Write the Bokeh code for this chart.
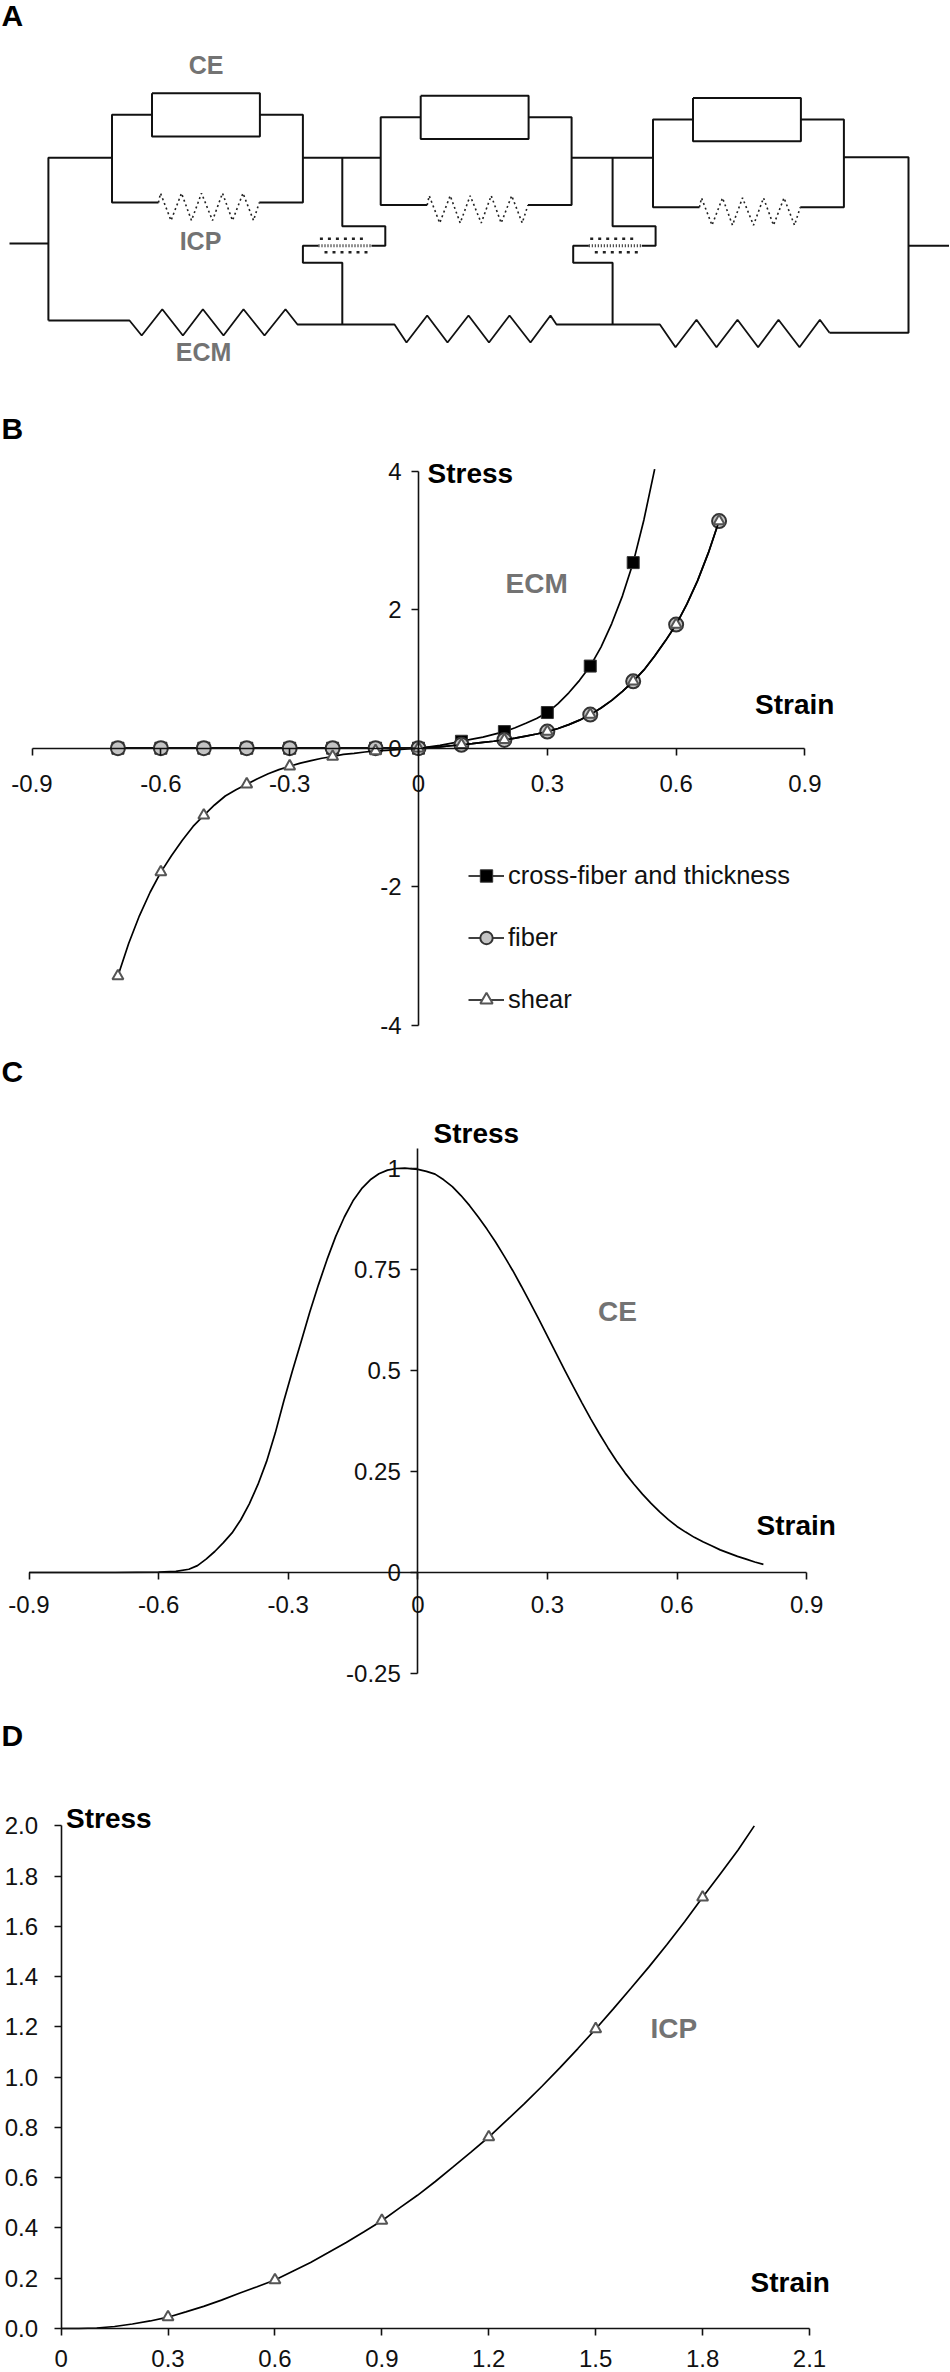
from bokeh.plotting import figure
from bokeh.layouts import column
from bokeh.models import Label, FixedTicker, Range1d, Legend, LegendItem
from bokeh.embed import file_html
from bokeh.resources import INLINE

# ---------- data ----------
b_x_ticks = [-0.9, -0.6, -0.3, 0, 0.3, 0.6, 0.9]
b_y_ticks = [-4, -2, 0, 2, 4]
marker_x = [-0.7, -0.6, -0.5, -0.4, -0.3, -0.2, -0.1, 0, 0.1, 0.2, 0.3, 0.4, 0.5, 0.6, 0.7]
cross_marker_x = [-0.7, -0.6, -0.5, -0.4, -0.3, -0.2, -0.1, 0, 0.1, 0.2, 0.3, 0.4, 0.5]
cross_marker_y = [0, 0, 0, 0, 0, 0, 0, 0, 0.1, 0.24, 0.515, 1.186, 2.68]
fiber_marker_y = [0, 0, 0, 0, 0, 0, 0, 0, 0.05, 0.12, 0.24, 0.485, 0.965, 1.785, 3.28]
shear_marker_y = [-3.29, -1.79, -0.97, -0.52, -0.26, -0.12, -0.04, 0, 0.05, 0.12, 0.24, 0.485, 0.965, 1.785, 3.28]

cross_curve_x = [-0.7, -0.1, 0, 0.025, 0.05, 0.075, 0.1, 0.125, 0.15, 0.175, 0.2, 0.225, 0.25, 0.275, 0.3, 0.325,
                 0.35, 0.375, 0.4, 0.425, 0.45, 0.475, 0.5, 0.525, 0.55]
cross_curve_y = [0, 0, 0, 0.02, 0.04, 0.07, 0.1, 0.13, 0.16, 0.2, 0.24, 0.295, 0.36, 0.43, 0.515, 0.645,
                 0.8, 0.98, 1.186, 1.46, 1.8, 2.2, 2.68, 3.3, 4.03]
fiber_curve_x = [-0.7, -0.1, 0, 0.025, 0.05, 0.075, 0.1, 0.125, 0.15, 0.175, 0.2, 0.225, 0.25, 0.275, 0.3, 0.325,
                 0.35, 0.375, 0.4, 0.425, 0.45, 0.475, 0.5, 0.525, 0.55, 0.575, 0.6, 0.625, 0.65, 0.675, 0.7]
fiber_curve_y = [0, 0, 0, 0.01, 0.02, 0.035, 0.05, 0.065, 0.085, 0.1, 0.12, 0.145, 0.175, 0.205, 0.24, 0.285,
                 0.34, 0.405, 0.485, 0.58, 0.69, 0.82, 0.965, 1.13, 1.33, 1.55, 1.785, 2.08, 2.42, 2.82, 3.28]
shear_curve_x = [-0.7, -0.675, -0.65, -0.625, -0.6, -0.575, -0.55, -0.525, -0.5, -0.475, -0.45, -0.425, -0.4, -0.375,
                 -0.35, -0.325, -0.3, -0.275, -0.25, -0.225, -0.2, -0.175, -0.15, -0.125, -0.1, -0.075, -0.05, -0.025] + fiber_curve_x[2:]
shear_curve_y = [-3.29, -2.82, -2.42, -2.08, -1.79, -1.55, -1.33, -1.13, -0.97, -0.82, -0.69, -0.6, -0.52, -0.44,
                 -0.37, -0.31, -0.26, -0.215, -0.18, -0.145, -0.12, -0.09, -0.075, -0.055, -0.04, -0.03, -0.02, -0.01] + fiber_curve_y[2:]

c_x_ticks = [-0.9, -0.6, -0.3, 0, 0.3, 0.6, 0.9]
c_y_ticks = [-0.25, 0, 0.25, 0.5, 0.75, 1]
ce_x = [-0.9, -0.7, -0.6, -0.56, -0.53, -0.51, -0.49, -0.47, -0.45, -0.43, -0.41, -0.39, -0.37, -0.35, -0.33, -0.31,
        -0.29, -0.27, -0.25, -0.23, -0.21, -0.19, -0.17, -0.15, -0.13, -0.11, -0.09, -0.07, -0.05, -0.03, 0, 0.02,
        0.04, 0.06, 0.08, 0.1, 0.12, 0.14, 0.16, 0.18, 0.2, 0.22, 0.24, 0.26, 0.28, 0.3, 0.32, 0.34, 0.36, 0.38,
        0.4, 0.42, 0.44, 0.46, 0.48, 0.5, 0.52, 0.54, 0.56, 0.58, 0.6, 0.62, 0.64, 0.66, 0.68, 0.7, 0.72, 0.74,
        0.76, 0.78, 0.8]
ce_y = [0, 0, 0.001, 0.003, 0.008, 0.017, 0.033, 0.052, 0.074, 0.098, 0.13, 0.17, 0.218, 0.275, 0.345, 0.425,
        0.5, 0.572, 0.645, 0.712, 0.775, 0.832, 0.88, 0.92, 0.95, 0.972, 0.987, 0.996, 1.0, 1.001, 0.998, 0.993,
        0.986, 0.972, 0.955, 0.933, 0.908, 0.88, 0.85, 0.818, 0.783, 0.747, 0.708, 0.668, 0.627, 0.585, 0.543, 0.501, 0.46, 0.42,
        0.381, 0.344, 0.309, 0.276, 0.246, 0.219, 0.194, 0.171, 0.15, 0.131, 0.114, 0.1, 0.087, 0.076, 0.066, 0.056, 0.048, 0.04,
        0.033, 0.026, 0.02]

d_x_ticks = [0, 0.3, 0.6, 0.9, 1.2, 1.5, 1.8, 2.1]
d_y_ticks = [0, 0.2, 0.4, 0.6, 0.8, 1.0, 1.2, 1.4, 1.6, 1.8, 2.0]
icp_x = [0, 0.05, 0.1, 0.15, 0.2, 0.25, 0.3, 0.35, 0.4, 0.45, 0.5, 0.55, 0.6, 0.65, 0.7, 0.75, 0.8, 0.85, 0.9, 0.95,
         1.0, 1.05, 1.1, 1.15, 1.2, 1.25, 1.3, 1.35, 1.4, 1.45, 1.5, 1.55, 1.6, 1.65, 1.7, 1.75, 1.8, 1.85, 1.9, 1.945]
icp_y = [0, 0, 0.002, 0.008, 0.018, 0.03, 0.045, 0.066, 0.088, 0.113, 0.14, 0.166, 0.193, 0.228, 0.263, 0.302, 0.342, 0.385, 0.429, 0.48,
         0.53, 0.585, 0.643, 0.702, 0.762, 0.828, 0.895, 0.965, 1.038, 1.114, 1.192, 1.273, 1.356, 1.44, 1.528, 1.62, 1.716, 1.81, 1.905, 2.0]
icp_marker_x = [0.3, 0.6, 0.9, 1.2, 1.5, 1.8]
icp_marker_y = [0.045, 0.193, 0.429, 0.762, 1.192, 1.716]

# schematic (panel A), in picture units of that panel
module_dx = [0, 268.7, 541]
module_dy = [0, 2.5, 4.7]
box_x = [151.5, 259.4, 259.4, 151.5, 151.5]
box_y = [92.7, 92.7, 136, 136, 92.7]
wire_left_x = [151.5, 111.5, 111.5, 158]
wire_left_y = [114.3, 114.3, 202, 202]
wire_right_x = [259.4, 302.4, 302.4, 258.8]
wire_right_y = [114.3, 114.3, 202, 202]
icp_zig_x = [158, 160, 170.5, 181, 191, 201, 212, 222, 232, 242.5, 253, 258.8]
icp_zig_y = [202, 192.7, 220, 192.7, 220, 192.7, 220, 192.7, 220, 192.7, 220, 202]
main_wires = [
    ([9, 47.9], [243, 243]),
    ([47.9, 47.9, 111.5], [320, 157.3, 157.3]),
    ([302.4, 380], [157.3, 157.3]),
    ([571, 652], [157.3, 157.3]),
    ([843, 908, 908, 829], [156.7, 156.7, 332.3, 332.3]),
    ([908, 948.5], [245.3, 245.3]),
]
ecm_zig_x = [47.9, 129, 141.2, 161.8, 182.4, 202.4, 223, 243, 264, 285, 297, 394, 406, 426.7, 447, 468, 488.5, 509,
             530, 550, 556, 659.4, 675, 696, 716, 737, 757.6, 778, 799, 819.4, 829]
ecm_zig_y = [320, 320, 335, 308.7, 335, 308.7, 335, 308.7, 335, 308.7, 324, 324, 342, 315, 342, 315, 342, 315,
             342, 315, 324, 324, 346.7, 319.3, 346.7, 319.3, 346.7, 319.3, 346.7, 319.3, 332.3]
link_dx = [0, 270.3]
link_top_x = [341.8, 341.8, 384.8, 384.8, 371]
link_top_y = [157.3, 225.7, 225.7, 245.3, 245.3]
link_bot_x = [318, 302.4, 302.4, 341.8, 341.8]
link_bot_y = [245.3, 245.3, 262.3, 262.3, 323.7]
dash_mid_x = [318, 371]
dash_mid_y = [245.3, 245.3]
dash_top_x = [319.4, 362.4]
dash_top_y = [238.3, 238.3]
dash_bot_x = [324, 368]
dash_bot_y = [251.7, 251.7]

FONT = "Liberation Sans"
W = 950


def make_fig(top, h, x0, xu, y0, yu):
    p = figure(width=W, height=h, output_backend="svg", toolbar_location=None,
               x_range=Range1d(-x0 / xu, (W - x0) / xu),
               y_range=Range1d(-(top + h - y0) / yu, (y0 - top) / yu),
               min_border=0, min_border_left=0, min_border_right=0, min_border_top=0, min_border_bottom=0)
    p.grid.visible = False
    p.outline_line_color = None
    p.background_fill_color = "white"
    p.border_fill_color = "white"
    return p, (x0, xu, y0, yu)


def style_axes(p, xt, yt, xb, yb, xlabels, ylabels, xs=12, ys=10):
    for ax, ticks, bounds, labs, st in ((p.xaxis, xt, xb, xlabels, xs), (p.yaxis, yt, yb, ylabels, ys)):
        ax.fixed_location = 0
        ax.ticker = FixedTicker(ticks=ticks)
        ax.bounds = bounds
        ax.major_label_overrides = dict(zip(ticks, labs))
        ax.major_label_text_font = FONT
        ax.major_label_text_font_size = "24px"
        ax.major_label_text_color = "#111111"
        ax.major_label_standoff = st
        ax.major_tick_in = 0
        ax.major_tick_out = 7
        ax.minor_tick_line_color = None
        ax.axis_line_color = "#111111"
        ax.major_tick_line_color = "#111111"
        ax.axis_line_width = 1.6
        ax.major_tick_line_width = 1.6


def lab(p, m, text, left, cy, size=28, color="black", bold=True, align="left"):
    x0, xu, y0, yu = m
    p.add_layout(Label(x=(left - x0) / xu, y=(y0 - cy) / yu, text=text, text_font=FONT,
                       text_font_size=f"{size}px", text_color=color,
                       text_font_style="bold" if bold else "normal",
                       text_baseline="middle", text_align=align))


def neg(ys_):
    return [-v for v in ys_]


GRAY = "#737373"

# ---------- panel A ----------
pa, ma = make_fig(0, 400, 0, 1, 0, 1)
pa.xaxis.visible = False
pa.yaxis.visible = False
LW = 2
for dx, dy in zip(module_dx, module_dy):
    for xs_, ys_ in ((box_x, box_y), (wire_left_x, wire_left_y), (wire_right_x, wire_right_y)):
        pa.line([v + dx for v in xs_], neg([v + dy for v in ys_]), line_color="#111111", line_width=LW)
    pa.line([v + dx for v in icp_zig_x], neg([v + dy for v in icp_zig_y]), line_color="#222222",
            line_width=1.6, line_dash="2 3")
for xs_, ys_ in main_wires:
    pa.line(xs_, neg(ys_), line_color="#111111", line_width=LW)
pa.line(ecm_zig_x, neg(ecm_zig_y), line_color="#111111", line_width=1.8)
for dx in link_dx:
    pa.line([v + dx for v in link_top_x], neg(link_top_y), line_color="#111111", line_width=LW)
    pa.line([v + dx for v in link_bot_x], neg(link_bot_y), line_color="#111111", line_width=LW)
    pa.line([v + dx for v in dash_mid_x], neg(dash_mid_y), line_color="#222222", line_width=3, line_dash="1 2")
    pa.line([v + dx for v in dash_top_x], neg(dash_top_y), line_color="#222222", line_width=2.5, line_dash="3 5")
    pa.line([v + dx for v in dash_bot_x], neg(dash_bot_y), line_color="#222222", line_width=2.5, line_dash="3 5")
lab(pa, ma, "A", 1, 15, 30)
lab(pa, ma, "CE", 205.5, 64, 25, GRAY, align="center")
lab(pa, ma, "ICP", 200, 240, 25, GRAY, align="center")
lab(pa, ma, "ECM", 203, 351, 25, GRAY, align="center")

# ---------- panel B ----------
pb, mb = make_fig(400, 650, 418, 429.4, 747.7, 69.25)
style_axes(pb, b_x_ticks, b_y_ticks, (-0.9, 0.9), (-4, 4),
           ["-0.9", "-0.6", "-0.3", "0", "0.3", "0.6", "0.9"], ["-4", "-2", "0", "2", "4"], 20, 10)
l1 = pb.line(cross_curve_x, cross_curve_y, line_color="black", line_width=1.7)
m1 = pb.scatter(cross_marker_x, cross_marker_y, marker="square", size=12, fill_color="black", line_color="#333333")
l2 = pb.line(fiber_curve_x, fiber_curve_y, line_color="black", line_width=1.7)
m2 = pb.scatter(marker_x, fiber_marker_y, marker="circle", size=14, fill_color="#c4c4c4",
                line_color="#333333", line_width=2)
l3 = pb.line(shear_curve_x, shear_curve_y, line_color="black", line_width=1.7)
m3 = pb.scatter(marker_x, shear_marker_y, marker="triangle", size=11, fill_color="white",
                line_color="#555555", line_width=2)
legend = Legend(items=[LegendItem(label="cross-fiber and thickness", renderers=[l1, m1]),
                       LegendItem(label="fiber", renderers=[l2, m2]),
                       LegendItem(label="shear", renderers=[l3, m3])],
                location=(468, 35), orientation="vertical")
legend.background_fill_alpha = 0
legend.border_line_color = None
legend.padding = 0
legend.margin = 0
legend.spacing = 31
legend.label_height = 31
legend.glyph_height = 31
legend.glyph_width = 36
legend.label_standoff = 4
legend.label_text_font = FONT
legend.label_text_font_size = "25.5px"
legend.label_text_color = "#111111"
pb.add_layout(legend)
lab(pb, mb, "B", 1, 428, 30)
lab(pb, mb, "Stress", 427, 472.6)
lab(pb, mb, "Strain", 754.5, 703.7)
lab(pb, mb, "ECM", 505, 582.6, 28, GRAY)

# ---------- panel C ----------
pc, mc = make_fig(1050, 650, 417.3, 432, 1572, 404)
style_axes(pc, c_x_ticks, c_y_ticks, (-0.9, 0.9), (-0.25, 1.05),
           ["-0.9", "-0.6", "-0.3", "0", "0.3", "0.6", "0.9"], ["-0.25", "0", "0.25", "0.5", "0.75", "1"], 16, 10)
pc.line(ce_x, ce_y, line_color="black", line_width=1.7)
lab(pc, mc, "C", 1, 1071, 30)
lab(pc, mc, "Stress", 433, 1133)
lab(pc, mc, "Strain", 756, 1525)
lab(pc, mc, "CE", 597.6, 1310.6, 28, GRAY)

# ---------- panel D ----------
pd_, md = make_fig(1700, 672, 60.6, 356.4, 2328, 251.3)
style_axes(pd_, d_x_ticks, d_y_ticks, (0, 2.1), (0, 2.0),
           ["0", "0.3", "0.6", "0.9", "1.2", "1.5", "1.8", "2.1"],
           ["0.0", "0.2", "0.4", "0.6", "0.8", "1.0", "1.2", "1.4", "1.6", "1.8", "2.0"], 14, 16)
pd_.line(icp_x, icp_y, line_color="black", line_width=1.7)
pd_.scatter(icp_marker_x, icp_marker_y, marker="triangle", size=11, fill_color="white",
            line_color="#555555", line_width=2)
lab(pd_, md, "D", 1, 1735, 30)
lab(pd_, md, "Stress", 65.5, 1818)
lab(pd_, md, "Strain", 750, 2282.4)
lab(pd_, md, "ICP", 650, 2028, 28, GRAY)

root = column(pa, pb, pc, pd_, spacing=0, margin=0)
open("out.html", "w").write(file_html(root, INLINE))
